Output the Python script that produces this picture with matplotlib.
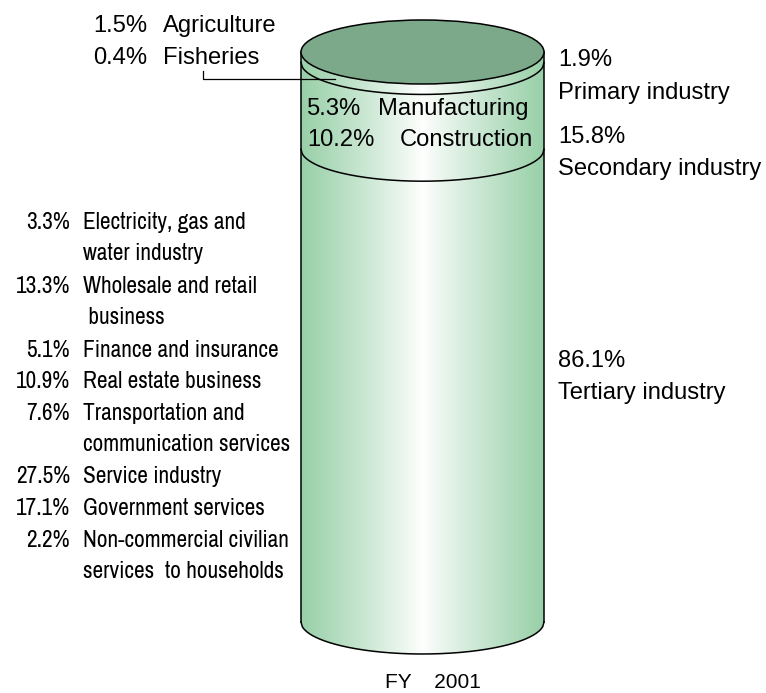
import numpy as np
import matplotlib.pyplot as plt
from matplotlib import font_manager
from matplotlib.patches import Ellipse, PathPatch
from matplotlib.path import Path

# Shares of gross domestic product by industry, FY 2001 (%)
sectors = ["Primary industry", "Secondary industry", "Tertiary industry"]
sector_shares = [1.9, 15.8, 86.1]

primary_items = ["Agriculture", "Fisheries"]
primary_shares = [1.5, 0.4]

secondary_items = ["Manufacturing", "Construction"]
secondary_shares = [5.3, 10.2]

tertiary_items = ["Electricity, gas and\nwater industry",
                  "Wholesale and retail\n business",
                  "Finance and insurance",
                  "Real estate business",
                  "Transportation and\ncommunication services",
                  "Service industry",
                  "Government services",
                  "Non-commercial civilian\nservices  to households"]
tertiary_shares = [3.3, 13.3, 5.1, 10.9, 7.6, 27.5, 17.1, 2.2]

year_label = "FY    2001"

W, H = 766, 693
plt.rcParams['font.family'] = ['Liberation Sans', 'DejaVu Sans']

# a narrow face for the long tertiary list, if one is installed
narrow_names = sorted({f.name for f in font_manager.fontManager.ttflist
                       if 'Narrow' in f.name or 'Condensed' in f.name})
if narrow_names:
    narrow = [narrow_names[0], 'Liberation Sans']
    narrow_size = 16.8
else:
    narrow = ['Liberation Sans', 'DejaVu Sans']
    narrow_size = 13.9

fig = plt.figure(figsize=(W / 100, H / 100), dpi=100)
ax = fig.add_axes([0, 0, 1, 1])
ax.axis('off')

# y axis runs in percent from the top face of the cylinder downwards
total = sum(sector_shares)
top_px, bottom_px = 52, 622
ppu = (bottom_px - top_px) / total
ax.set_xlim(0, W)
ax.set_ylim(total + (H - bottom_px) / ppu, -top_px / ppu)

xc, half_w = 422.5, 121.5
depth = 32 / ppu          # half-height of the ellipses, in data units
x0, x1 = xc - half_w, xc + half_w

u = np.linspace(-1, 1, 200)
xs = xc + half_w * u
arc = depth * np.sqrt(1 - u ** 2)

# body with a horizontal shading: green at the edges, white in the middle
edge = np.array([152, 208, 168]) / 255
t = np.abs(np.linspace(-1, 1, 400)) ** 0.9
grad = (1 - t)[:, None] * np.ones(3) + t[:, None] * edge
verts = ([(x0, 0)] + list(zip(xs, total + arc)) + [(x1, 0)]
         + list(zip(xs[::-1], -arc[::-1])))
clip = PathPatch(Path(verts), facecolor='none', edgecolor='none')
ax.add_patch(clip)
img = ax.imshow(grad[None, :, :], extent=[x0, x1, total + depth, -depth],
                aspect='auto', interpolation='bilinear', zorder=1)
img.set_clip_path(clip)

lw = 1.1
ax.plot([x0, x0], [0, total], color='black', lw=lw, zorder=3)
ax.plot([x1, x1], [0, total], color='black', lw=lw, zorder=3)
ax.plot(xs, total + arc, color='black', lw=lw, zorder=3)

# band boundaries between the sectors
for level in np.cumsum(sector_shares)[:-1]:
    ax.plot(xs, level + arc, color='black', lw=lw, zorder=3)

ax.add_patch(Ellipse((xc, 0), 2 * half_w, 2 * depth, facecolor='#7ca98a',
                     edgecolor='black', lw=lw, zorder=4))

# leader from the primary breakdown into the primary band
lx = 335
lu = (lx - xc) / half_w
ly = sector_shares[0] / 2 + depth * np.sqrt(1 - lu ** 2)
ax.plot([203, 203, lx], [ly - 1.6, ly, ly], color='black', lw=0.9, zorder=5)


def px(x, y):
    return x / W, 1 - y / H


def pct(v):
    return f"{v:.1f}%"


big = 17.1
for (name, val), base in zip(zip(primary_items, primary_shares), [32, 64]):
    fig.text(*px(147, base), pct(val), ha='right', va='baseline', fontsize=big)
    fig.text(*px(163, base), name, ha='left', va='baseline', fontsize=big)

# secondary breakdown written inside the secondary band
sec_mid = sector_shares[0] + sector_shares[1] / 2
sec_px = top_px + sec_mid * ppu
in_rows = [(secondary_shares[0], secondary_items[0], 378, sec_px + 9),
           (secondary_shares[1], secondary_items[1], 400, sec_px + 40)]
for val, name, nx, base in in_rows:
    fig.text(*px(307, base), pct(val), ha='left', va='baseline', fontsize=big)
    fig.text(*px(nx, base), name, ha='left', va='baseline', fontsize=big)

right_rows = [(66, 99), (143, 175), (367, 399)]
for name, val, (b1, b2) in zip(sectors, sector_shares, right_rows):
    fig.text(*px(558, b1), pct(val), ha='left', va='baseline', fontsize=big)
    fig.text(*px(558, b2), name, ha='left', va='baseline', fontsize=big)

left_bases = [229, 293, 357, 388, 420, 483, 515, 547]
for name, val, base in zip(tertiary_items, tertiary_shares, left_bases):
    fig.text(*px(70, base), pct(val), ha='right', va='baseline',
             fontsize=narrow_size, family=narrow)
    for k, line in enumerate(name.split("\n")):
        fig.text(*px(83, base + 31 * k), line, ha='left', va='baseline',
                 fontsize=narrow_size, family=narrow)

fig.text(*px(385, 688), year_label, ha='left', va='baseline', fontsize=15)

fig.savefig("out.png", dpi=100)
